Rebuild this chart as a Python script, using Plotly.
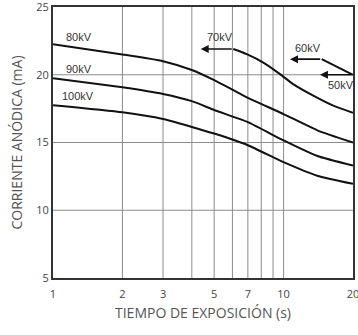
import math
import plotly.graph_objects as go

# ---- data ----
t_70 = [6.05, 6.92, 8.17, 9.65, 11.0, 13.45, 16.43, 20]
ma_70 = [21.9, 21.52, 20.9, 20.05, 19.31, 18.46, 17.72, 17.2]

t_80 = [1, 2, 3, 4, 5, 6, 7, 10, 14, 20]
ma_80 = [22.25, 21.5, 21.0, 20.35, 19.6, 18.9, 18.3, 17.1, 15.9, 15.0]

t_90 = [1, 2, 3, 4, 5, 7, 10, 14, 20]
ma_90 = [19.75, 19.07, 18.58, 18.05, 17.4, 16.5, 15.15, 14.0, 13.3]

t_100 = [1, 2, 3, 4, 5, 7, 10, 14, 20]
ma_100 = [17.75, 17.23, 16.74, 16.15, 15.66, 14.8, 13.55, 12.55, 11.95]

# arrows: (head_t, tail_t, mA)
arrow_70 = (4.37, 6.05, 21.9)
arrow_60 = (10.66, 14.63, 21.15)
seg_60_t = [14.63, 20]
seg_60_ma = [21.15, 20.0]
arrow_50 = (14.38, 20, 20.0)

x_ticks = [1, 2, 3, 5, 7, 10, 20]
y_ticks = [5, 10, 15, 20, 25]
grid_x = [2, 3, 4, 5, 6, 7, 8, 9, 10]
grid_y = [10, 15, 20]

fig = go.Figure()
line_style = dict(color="#111111", width=2, shape="spline", smoothing=0.5)
for t, m in [(t_70, ma_70), (t_80, ma_80), (t_90, ma_90), (t_100, ma_100)]:
    fig.add_trace(go.Scatter(x=t, y=m, mode="lines", line=line_style,
                             hoverinfo="skip", showlegend=False))
fig.add_trace(go.Scatter(x=seg_60_t, y=seg_60_ma, mode="lines",
                         line=dict(color="#111111", width=2),
                         hoverinfo="skip", showlegend=False))

# gridlines
for g in grid_x:
    fig.add_shape(type="line", xref="x", yref="paper", x0=g, x1=g, y0=0, y1=1,
                  line=dict(color="#8c8c8c", width=1), layer="below")
for g in grid_y:
    fig.add_shape(type="line", xref="paper", yref="y", x0=0, x1=1, y0=g, y1=g,
                  line=dict(color="#8c8c8c", width=1), layer="below")

for head, tail, v in [arrow_70, arrow_60, arrow_50]:
    fig.add_annotation(x=math.log10(head), y=v, ax=math.log10(tail), ay=v,
                       xref="x", yref="y", axref="x", ayref="y", text="",
                       showarrow=True, arrowhead=2, arrowsize=1,
                       arrowwidth=1.6, arrowcolor="#111111")

label_font = dict(family="Liberation Sans, Arial", size=11, color="#333333")
labels = [("80kV", 1.12, 22.75), ("90kV", 1.12, 20.45), ("100kV", 1.07, 18.45),
          ("70kV", 4.55, 22.8), ("60kV", 11.0, 21.95), ("50kV", 15.3, 19.25)]
for txt, t, v in labels:
    fig.add_annotation(x=math.log10(t), y=v, xref="x", yref="y", text=txt,
                       showarrow=False, xanchor="left", yanchor="middle",
                       font=label_font)

axis_font = dict(family="Open Sans", size=14, color="#555555")
tick_font = dict(family="Open Sans", size=11, color="#444444")
fig.update_xaxes(type="log", range=[0, math.log10(20)], tickvals=x_ticks,
                 ticktext=[str(v) for v in x_ticks], showgrid=False,
                 showline=True, linecolor="#333333", linewidth=2, mirror=True,
                 ticks="", tickfont=tick_font, zeroline=False, automargin=False,
                 ticklabeloverflow="allow", ticklabelstandoff=5,
                 title=dict(text="TIEMPO DE EXPOSICIÓN (s)", font=axis_font, standoff=8))
fig.update_yaxes(range=[5, 25], tickvals=y_ticks, showgrid=False,
                 showline=True, linecolor="#333333", linewidth=2, mirror=True,
                 ticks="", tickfont=tick_font, zeroline=False, automargin=False,
                 ticklabeloverflow="allow",
                 title=dict(text="CORRIENTE ANÓDICA (mA)", font=axis_font, standoff=10))
fig.update_layout(width=358, height=335, margin=dict(l=53, r=5, t=7, b=57),
                  plot_bgcolor="white", paper_bgcolor="white")
fig.write_html("out.html", config={"displayModeBar": False},
               post_script="document.body.style.margin='0';document.body.style.padding='0';")
